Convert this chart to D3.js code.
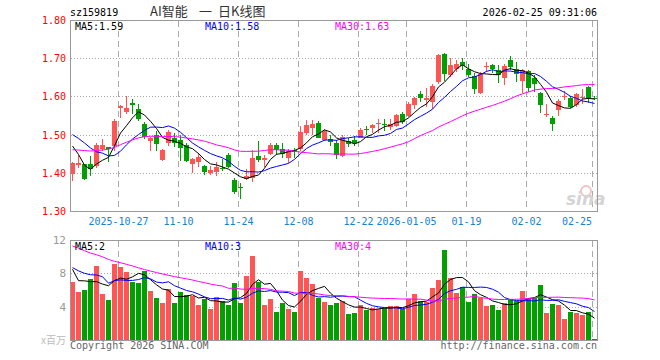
<!DOCTYPE html>
<html>
<head>
<meta charset="utf-8">
<title>AI智能 日K线图</title>
<script src="https://d3js.org/d3.v7.min.js"></script>
<style>
body{margin:0; background:#fff;}
svg{display:block;}
text{font-family:"DejaVu Sans Mono", monospace; font-size:10px;}
</style>
</head>
<body>
<script>
// trading days shown
var dates = [
"2025-10-15","2025-10-16","2025-10-17","2025-10-20","2025-10-21","2025-10-22","2025-10-23","2025-10-24","2025-10-27","2025-10-28","2025-10-29","2025-10-30","2025-10-31",
"2025-11-03","2025-11-04","2025-11-05","2025-11-06","2025-11-07","2025-11-10","2025-11-11","2025-11-12","2025-11-13","2025-11-14","2025-11-17","2025-11-18","2025-11-19","2025-11-20","2025-11-21","2025-11-24","2025-11-25","2025-11-26","2025-11-27","2025-11-28",
"2025-12-01","2025-12-02","2025-12-03","2025-12-04","2025-12-05","2025-12-08","2025-12-09","2025-12-10","2025-12-11","2025-12-12","2025-12-15","2025-12-16","2025-12-17","2025-12-18","2025-12-19","2025-12-22","2025-12-23","2025-12-24","2025-12-25","2025-12-26","2025-12-29","2025-12-30","2025-12-31",
"2026-01-05","2026-01-06","2026-01-07","2026-01-08","2026-01-09","2026-01-12","2026-01-13","2026-01-14","2026-01-15","2026-01-16","2026-01-19","2026-01-20","2026-01-21","2026-01-22","2026-01-23","2026-01-26","2026-01-27","2026-01-28","2026-01-29","2026-01-30",
"2026-02-02","2026-02-03","2026-02-04","2026-02-05","2026-02-06","2026-02-09","2026-02-10","2026-02-11","2026-02-12","2026-02-13","2026-02-24","2026-02-25"];

var open = [1.396,1.420,1.422,1.422,1.418,1.463,1.467,1.470,1.570,1.560,
1.583,1.567,1.528,1.483,1.498,1.434,1.478,1.492,1.486,1.473,
1.422,1.429,1.417,1.399,1.403,1.413,1.447,1.382,1.362,1.384,
1.386,1.445,1.434,1.449,1.474,1.462,1.440,1.459,1.461,1.503,
1.516,1.531,1.487,1.489,1.479,1.444,1.484,1.486,1.492,1.514,
1.518,1.528,1.528,1.519,1.523,1.554,1.549,1.578,1.606,1.590,
1.585,1.638,1.711,1.655,1.672,1.689,1.671,1.654,1.610,1.677,
1.681,1.670,1.648,1.694,1.672,1.640,1.667,1.648,1.608,1.552,
1.543,1.564,1.598,1.597,1.578,1.595,1.625,1.596];

var high = [1.429,1.447,1.424,1.444,1.479,1.488,1.468,1.540,1.577,1.602,
1.592,1.580,1.532,1.494,1.510,1.462,1.512,1.503,1.499,1.477,
1.440,1.452,1.420,1.419,1.428,1.435,1.452,1.386,1.374,1.410,
1.460,1.484,1.446,1.478,1.478,1.478,1.462,1.465,1.522,1.537,
1.538,1.535,1.515,1.500,1.485,1.498,1.490,1.497,1.517,1.523,
1.527,1.541,1.540,1.540,1.555,1.558,1.585,1.598,1.613,1.622,
1.633,1.710,1.714,1.700,1.694,1.700,1.685,1.660,1.663,1.690,
1.684,1.682,1.685,1.705,1.690,1.672,1.670,1.655,1.612,1.580,
1.550,1.592,1.614,1.602,1.608,1.620,1.628,1.600];

var low = [1.378,1.413,1.380,1.391,1.413,1.457,1.428,1.457,1.543,1.555,
1.553,1.535,1.488,1.458,1.458,1.431,1.470,1.468,1.430,1.428,
1.399,1.416,1.394,1.394,1.392,1.404,1.412,1.345,1.332,1.380,
1.375,1.428,1.414,1.446,1.447,1.440,1.425,1.440,1.458,1.500,
1.500,1.490,1.483,1.470,1.436,1.441,1.468,1.470,1.490,1.498,
1.505,1.505,1.510,1.512,1.520,1.528,1.546,1.568,1.585,1.573,
1.567,1.632,1.640,1.650,1.663,1.668,1.652,1.605,1.605,1.663,
1.660,1.636,1.630,1.668,1.638,1.610,1.611,1.611,1.556,1.547,
1.510,1.550,1.590,1.570,1.573,1.580,1.582,1.590];

var close = [1.425,1.425,1.383,1.409,1.473,1.474,1.463,1.536,1.574,1.570,
1.577,1.542,1.493,1.492,1.476,1.460,1.506,1.479,1.465,1.430,
1.436,1.442,1.401,1.408,1.416,1.409,1.414,1.350,1.359,1.391,
1.438,1.433,1.439,1.474,1.459,1.448,1.456,1.455,1.508,1.525,
1.528,1.492,1.509,1.481,1.447,1.495,1.476,1.479,1.511,1.511,
1.526,1.531,1.525,1.529,1.551,1.533,1.581,1.595,1.596,1.596,
1.628,1.708,1.658,1.682,1.685,1.680,1.657,1.619,1.658,1.680,
1.672,1.655,1.679,1.677,1.658,1.668,1.622,1.632,1.578,1.555,
1.527,1.588,1.601,1.573,1.605,1.598,1.597,1.593];

// volume, x百万
var volume = [7.0,5.8,6.0,7.32,8.92,5.52,4.8,9.16,8.76,8.2,
7.0,6.88,8.28,5.88,5.08,4.48,6.16,4.48,5.8,5.4,
5.32,4.2,4.92,3.76,5.2,4.68,4.2,6.88,4.48,7.72,
10.08,7.0,4.2,4.92,3.36,4.48,3.72,3.36,8.32,7.48,
6.72,5.08,4.6,4.2,4.48,4.68,3.12,3.28,4.2,3.6,
3.88,3.72,3.8,4.08,4.08,3.72,4.88,5.52,4.68,4.52,
6.28,7.2,10.8,7.48,5.68,6.32,4.6,5.52,5.08,4.08,
4.2,3.6,4.4,4.88,4.68,5.88,5.0,5.0,6.6,3.28,
4.32,4.2,2.52,3.4,3.2,3.0,3.4,0.12];

// 29 days before the first candle, only used for the moving averages
var prevClose = [1.45,1.43,1.44,1.43,1.44,1.40,1.38,1.37,1.38,1.39,1.39,1.395,
1.46,1.48,1.49,1.49,1.493,1.50,1.50,1.506,1.525,1.503,1.539,1.573,1.51,
1.535,1.523,1.464,1.403];
var prevVolume = [13.5,15.2,16.0,14.8,12.9,14.5,15.8,13.6,14.2,12.8,13.7,14.5,
11.2,10.5,9.6,10.8,9.4,9.9,9.2,9.5,9.6,9.0,9.0,9.24,7.56,12.6,6.1,7.82,8.88];

var tickDates = ["2025-10-27","2025-11-10","2025-11-24","2025-12-08","2025-12-22","2026-01-05","2026-01-19","2026-02-02","2026-02-25"];
var tickLabels = ["2025-10-27","11-10","11-24","12-08","12-22","2026-01-05","01-19","02-02","02-25"];
var priceTicks = [1.30,1.40,1.50,1.60,1.70,1.80];
var volTicks = [4,8,12];
var maPeriods = [5,10,30];
var maColors = ["#000000","#0000ff","#ff00ff"];
var titleParts = ["AI智能","一","日K线图"];

var upColor = "#ff5555", downColor = "#00a000";

var width = 660, height = 360;
var svg = d3.select("body").append("svg").attr("width", width).attr("height", height);

// scales
var x = d3.scaleBand().domain(dates).range([70, 598]);
var y = d3.scaleLinear().domain([1.30, 1.80]).range([211, 20]);
var yv = d3.scaleLinear().domain([0, 12]).range([340, 240]);
var cx = function(d){ return x(d) + 2.5; };

function movingAvg(prev, vals, n){
  var all = prev.concat(vals);
  return vals.map(function(v, i){
    return d3.mean(all.slice(prev.length + i - n + 1, prev.length + i + 1));
  });
}
var priceMA = maPeriods.map(function(n){ return movingAvg(prevClose, close, n); });
var volMA = maPeriods.map(function(n){ return movingAvg(prevVolume, volume, n); });

// header
svg.append("text").attr("x", 70).attr("y", 16).text("sz159819");
var titleX = [150, 199, 218];
titleParts.forEach(function(t, i){
  svg.append("text").attr("x", titleX[i]).attr("y", 16)
    .style("font-family", "'Noto Sans CJK SC', sans-serif").style("font-size", "13px")
    .attr("fill", "#333").text(t);
});
svg.append("text").attr("x", 597).attr("y", 16).attr("text-anchor", "end").text("2026-02-25 09:31:06");

// grids
var gh = svg.append("g").attr("stroke", "#aaa").attr("shape-rendering", "crispEdges");
priceTicks.slice(1, -1).forEach(function(p){
  gh.append("line").attr("x1", 71).attr("x2", 597)
    .attr("y1", Math.round(y(p)) + 0.5).attr("y2", Math.round(y(p)) + 0.5)
    .attr("stroke-dasharray", "1,2");
});
volTicks.slice(0, -1).forEach(function(v){
  gh.append("line").attr("x1", 71).attr("x2", 597)
    .attr("y1", Math.round(yv(v)) + 0.5).attr("y2", Math.round(yv(v)) + 0.5)
    .attr("stroke-dasharray", "1,2");
});
tickDates.forEach(function(d){
  [[21, 211], [241, 340]].forEach(function(r){
    gh.append("line").attr("x1", x(d) + 0.5).attr("x2", x(d) + 0.5)
      .attr("y1", r[0]).attr("y2", r[1]).attr("stroke-dasharray", "6,4");
  });
});

// sina watermark
svg.append("circle").attr("cx", 586).attr("cy", 191).attr("r", 5)
  .attr("fill", "none").attr("stroke", "#f2c4c4").attr("stroke-width", 2);
svg.append("text").attr("x", 566).attr("y", 205)
  .style("font-family", "'DejaVu Sans', sans-serif").style("font-size", "17px")
  .style("font-weight", "bold").style("font-style", "italic")
  .attr("fill", "#d4d4d4").text("sina");

// candles
var cg = svg.append("g").attr("shape-rendering", "crispEdges");
dates.forEach(function(d, i){
  var c = close[i] > open[i] ? upColor : downColor;
  cg.append("line").attr("x1", cx(d)).attr("x2", cx(d))
    .attr("y1", y(high[i])).attr("y2", y(low[i])).attr("stroke", c);
  var top = y(Math.max(open[i], close[i])), bot = y(Math.min(open[i], close[i]));
  cg.append("rect").attr("x", x(d)).attr("y", top).attr("width", 5)
    .attr("height", Math.max(1, bot - top)).attr("fill", c);
});

// volume bars
svg.append("g").attr("shape-rendering", "crispEdges").selectAll("rect")
  .data(dates).enter().append("rect")
  .attr("x", function(d){ return x(d); })
  .attr("y", function(d, i){ return yv(volume[i]); })
  .attr("width", 5)
  .attr("height", function(d, i){ return 340 - yv(volume[i]); })
  .attr("fill", function(d, i){ return close[i] > open[i] ? upColor : downColor; });

// moving average lines
priceMA.forEach(function(m, j){
  svg.append("path").attr("fill", "none").attr("stroke", maColors[j]).attr("stroke-width", 1)
    .attr("d", d3.line().x(function(d){ return cx(d); }).y(function(d, i){ return y(m[i]); })(dates));
});
volMA.forEach(function(m, j){
  svg.append("path").attr("fill", "none").attr("stroke", maColors[j]).attr("stroke-width", 1)
    .attr("d", d3.line().x(function(d){ return cx(d); }).y(function(d, i){ return yv(m[i]); })(dates));
});

// frames
svg.append("rect").attr("x", 70.5).attr("y", 20.5).attr("width", 527).attr("height", 191)
  .attr("fill", "none").attr("stroke", "#999");
svg.append("rect").attr("x", 70.5).attr("y", 240.5).attr("width", 527).attr("height", 100)
  .attr("fill", "none").attr("stroke", "#999");

// axis labels
priceTicks.forEach(function(p){
  svg.append("text").attr("x", 66).attr("y", y(p) + 4).attr("text-anchor", "end")
    .attr("fill", "#ff0000").text(p.toFixed(2));
});
volTicks.forEach(function(v){
  svg.append("text").attr("x", 66).attr("y", yv(v) + 4).attr("text-anchor", "end")
    .attr("fill", "#999").style("font-size", "11px").text(v);
});
svg.append("text").attr("x", 66).attr("y", 344).attr("text-anchor", "end")
  .style("font-family", "'Noto Sans CJK SC', sans-serif").style("font-size", "10px")
  .attr("fill", "#bbb").text("x百万");
tickDates.forEach(function(d, i){
  var last = i == tickDates.length - 1;
  svg.append("text").attr("x", x(d) + (last ? 0 : 0.5)).attr("y", 225)
    .attr("text-anchor", last ? "end" : "middle")
    .attr("fill", "#1a80d0").text(tickLabels[i]);
});

// legends
var legX = [75, 205, 335];
maPeriods.forEach(function(n, j){
  var pm = priceMA[j][priceMA[j].length - 1];
  var vm = volMA[j][volMA[j].length - 1];
  svg.append("text").attr("x", legX[j]).attr("y", 30).attr("fill", maColors[j])
    .text("MA" + n + ":" + pm.toFixed(2));
  svg.append("text").attr("x", legX[j]).attr("y", 250).attr("fill", maColors[j])
    .text("MA" + n + ":" + Math.floor(vm));
});

// footer
svg.append("text").attr("x", 70).attr("y", 349).attr("fill", "#666").text("Copyright 2026 SINA.COM");
svg.append("text").attr("x", 597).attr("y", 349).attr("text-anchor", "end").attr("fill", "#666").text("http://finance.sina.com.cn");
</script>
</body>
</html>
